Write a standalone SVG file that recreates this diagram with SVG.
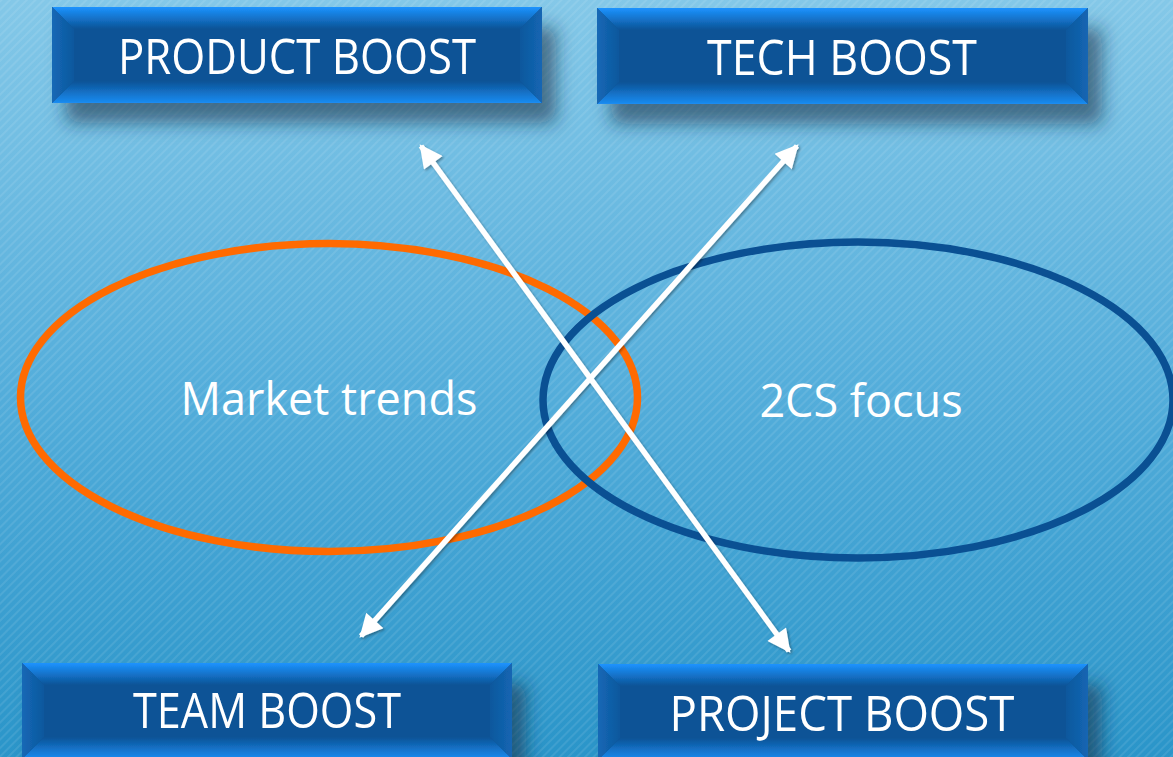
<svg xmlns="http://www.w3.org/2000/svg" width="1173" height="757" viewBox="0 0 1173 757">
<defs>
<linearGradient id="bg" x1="0" y1="0" x2="0" y2="1">
<stop offset="0" stop-color="#84c8e8"/>
<stop offset="0.5" stop-color="#55aedb"/>
<stop offset="1" stop-color="#2a95c9"/>
</linearGradient>
<pattern id="stripes" width="6" height="6" patternUnits="userSpaceOnUse" patternTransform="rotate(-45)">
<rect width="6" height="2" fill="#ffffff" opacity="0.09"/>
</pattern>
<linearGradient id="bvTop" x1="0" y1="0" x2="0" y2="1">
<stop offset="0" stop-color="#1c93ff"/>
<stop offset="1" stop-color="#0c5396"/>
</linearGradient>
<linearGradient id="bvBot" x1="0" y1="1" x2="0" y2="0">
<stop offset="0" stop-color="#1a8cf2"/>
<stop offset="1" stop-color="#0c5396"/>
</linearGradient>
<linearGradient id="bvL" x1="0" y1="0" x2="1" y2="0">
<stop offset="0" stop-color="#1468b6"/>
<stop offset="1" stop-color="#0e589d"/>
</linearGradient>
<linearGradient id="bvR" x1="1" y1="0" x2="0" y2="0">
<stop offset="0" stop-color="#1366b3"/>
<stop offset="1" stop-color="#0e589d"/>
</linearGradient>
<filter id="shadow" x="-10%" y="-20%" width="130%" height="190%">
<feDropShadow dx="14" dy="20" stdDeviation="9" flood-color="#16283c" flood-opacity="0.55"/>
</filter>
<filter id="ashadow" x="-10%" y="-10%" width="120%" height="120%">
<feDropShadow dx="1.5" dy="1.5" stdDeviation="1.2" flood-color="#000" flood-opacity="0.35"/>
</filter>
<marker id="ah" viewBox="0 0 10 10" refX="9" refY="5" markerWidth="4.4" markerHeight="4.2" orient="auto-start-reverse" markerUnits="strokeWidth">
<path d="M0,0 L10,5 L0,10 Z" fill="#ffffff"/>
</marker>
</defs>
<style>
.box-mid{fill:#0c5396}
.bv-l{fill:url(#bvL)}
.bv-r{fill:url(#bvR)}
.lbl{font-family:"Open Sans","Noto Sans",sans-serif;fill:#ffffff;text-anchor:middle}
.btxt{font-size:50px}
.etxt{font-size:45px}
.arrow{stroke:#ffffff;stroke-width:5.5;fill:none;marker-start:url(#ah);marker-end:url(#ah)}
</style>
<rect width="1173" height="757" fill="url(#bg)"/>
<rect width="1173" height="757" fill="url(#stripes)"/>

<g id="ellipse-market">
<ellipse cx="329" cy="397.5" rx="308.5" ry="154" fill="none" stroke="#ff6a00" stroke-width="7.5"/>
<text class="lbl etxt" x="329" y="415">Market trends</text>
</g>
<g id="ellipse-2cs">
<ellipse cx="858" cy="400" rx="315" ry="158" fill="none" stroke="#0a5093" stroke-width="7.5"/>
<text class="lbl etxt" x="861" y="417">2CS focus</text>
</g>

<g id="node-product" filter="url(#shadow)">
<rect x="52" y="7" width="490" height="96" class="box-mid"/>
<polygon points="52,7 542,7 520,29 74,29" fill="url(#bvTop)"/>
<polygon points="52,103 542,103 520,81 74,81" fill="url(#bvBot)"/>
<polygon points="52,7 74,29 74,81 52,103" class="bv-l"/>
<polygon points="542,7 520,29 520,81 542,103" class="bv-r"/>
<text class="lbl btxt" x="297" y="74" textLength="358" lengthAdjust="spacingAndGlyphs">PRODUCT BOOST</text>
</g>
<g id="node-tech" filter="url(#shadow)">
<rect x="597" y="8" width="491" height="96" class="box-mid"/>
<polygon points="597,8 1088,8 1066,30 619,30" fill="url(#bvTop)"/>
<polygon points="597,104 1088,104 1066,82 619,82" fill="url(#bvBot)"/>
<polygon points="597,8 619,30 619,82 597,104" class="bv-l"/>
<polygon points="1088,8 1066,30 1066,82 1088,104" class="bv-r"/>
<text class="lbl btxt" x="842" y="75" textLength="270" lengthAdjust="spacingAndGlyphs">TECH BOOST</text>
</g>
<g id="node-team" filter="url(#shadow)">
<rect x="22" y="663" width="490" height="96" class="box-mid"/>
<polygon points="22,663 512,663 490,685 44,685" fill="url(#bvTop)"/>
<polygon points="22,759 512,759 490,737 44,737" fill="url(#bvBot)"/>
<polygon points="22,663 44,685 44,737 22,759" class="bv-l"/>
<polygon points="512,663 490,685 490,737 512,759" class="bv-r"/>
<text class="lbl btxt" x="267" y="728" textLength="268" lengthAdjust="spacingAndGlyphs">TEAM BOOST</text>
</g>
<g id="node-project" filter="url(#shadow)">
<rect x="598" y="664" width="490" height="96" class="box-mid"/>
<polygon points="598,664 1088,664 1066,686 620,686" fill="url(#bvTop)"/>
<polygon points="598,760 1088,760 1066,738 620,738" fill="url(#bvBot)"/>
<polygon points="598,664 620,686 620,738 598,760" class="bv-l"/>
<polygon points="1088,664 1066,686 1066,738 1088,760" class="bv-r"/>
<text class="lbl btxt" x="842" y="731" textLength="345" lengthAdjust="spacingAndGlyphs">PROJECT BOOST</text>
</g>

<g id="connectors" filter="url(#ashadow)">
<line class="arrow" x1="421" y1="146" x2="789" y2="651"/>
<line class="arrow" x1="797" y1="146" x2="361" y2="636"/>
</g>
</svg>
